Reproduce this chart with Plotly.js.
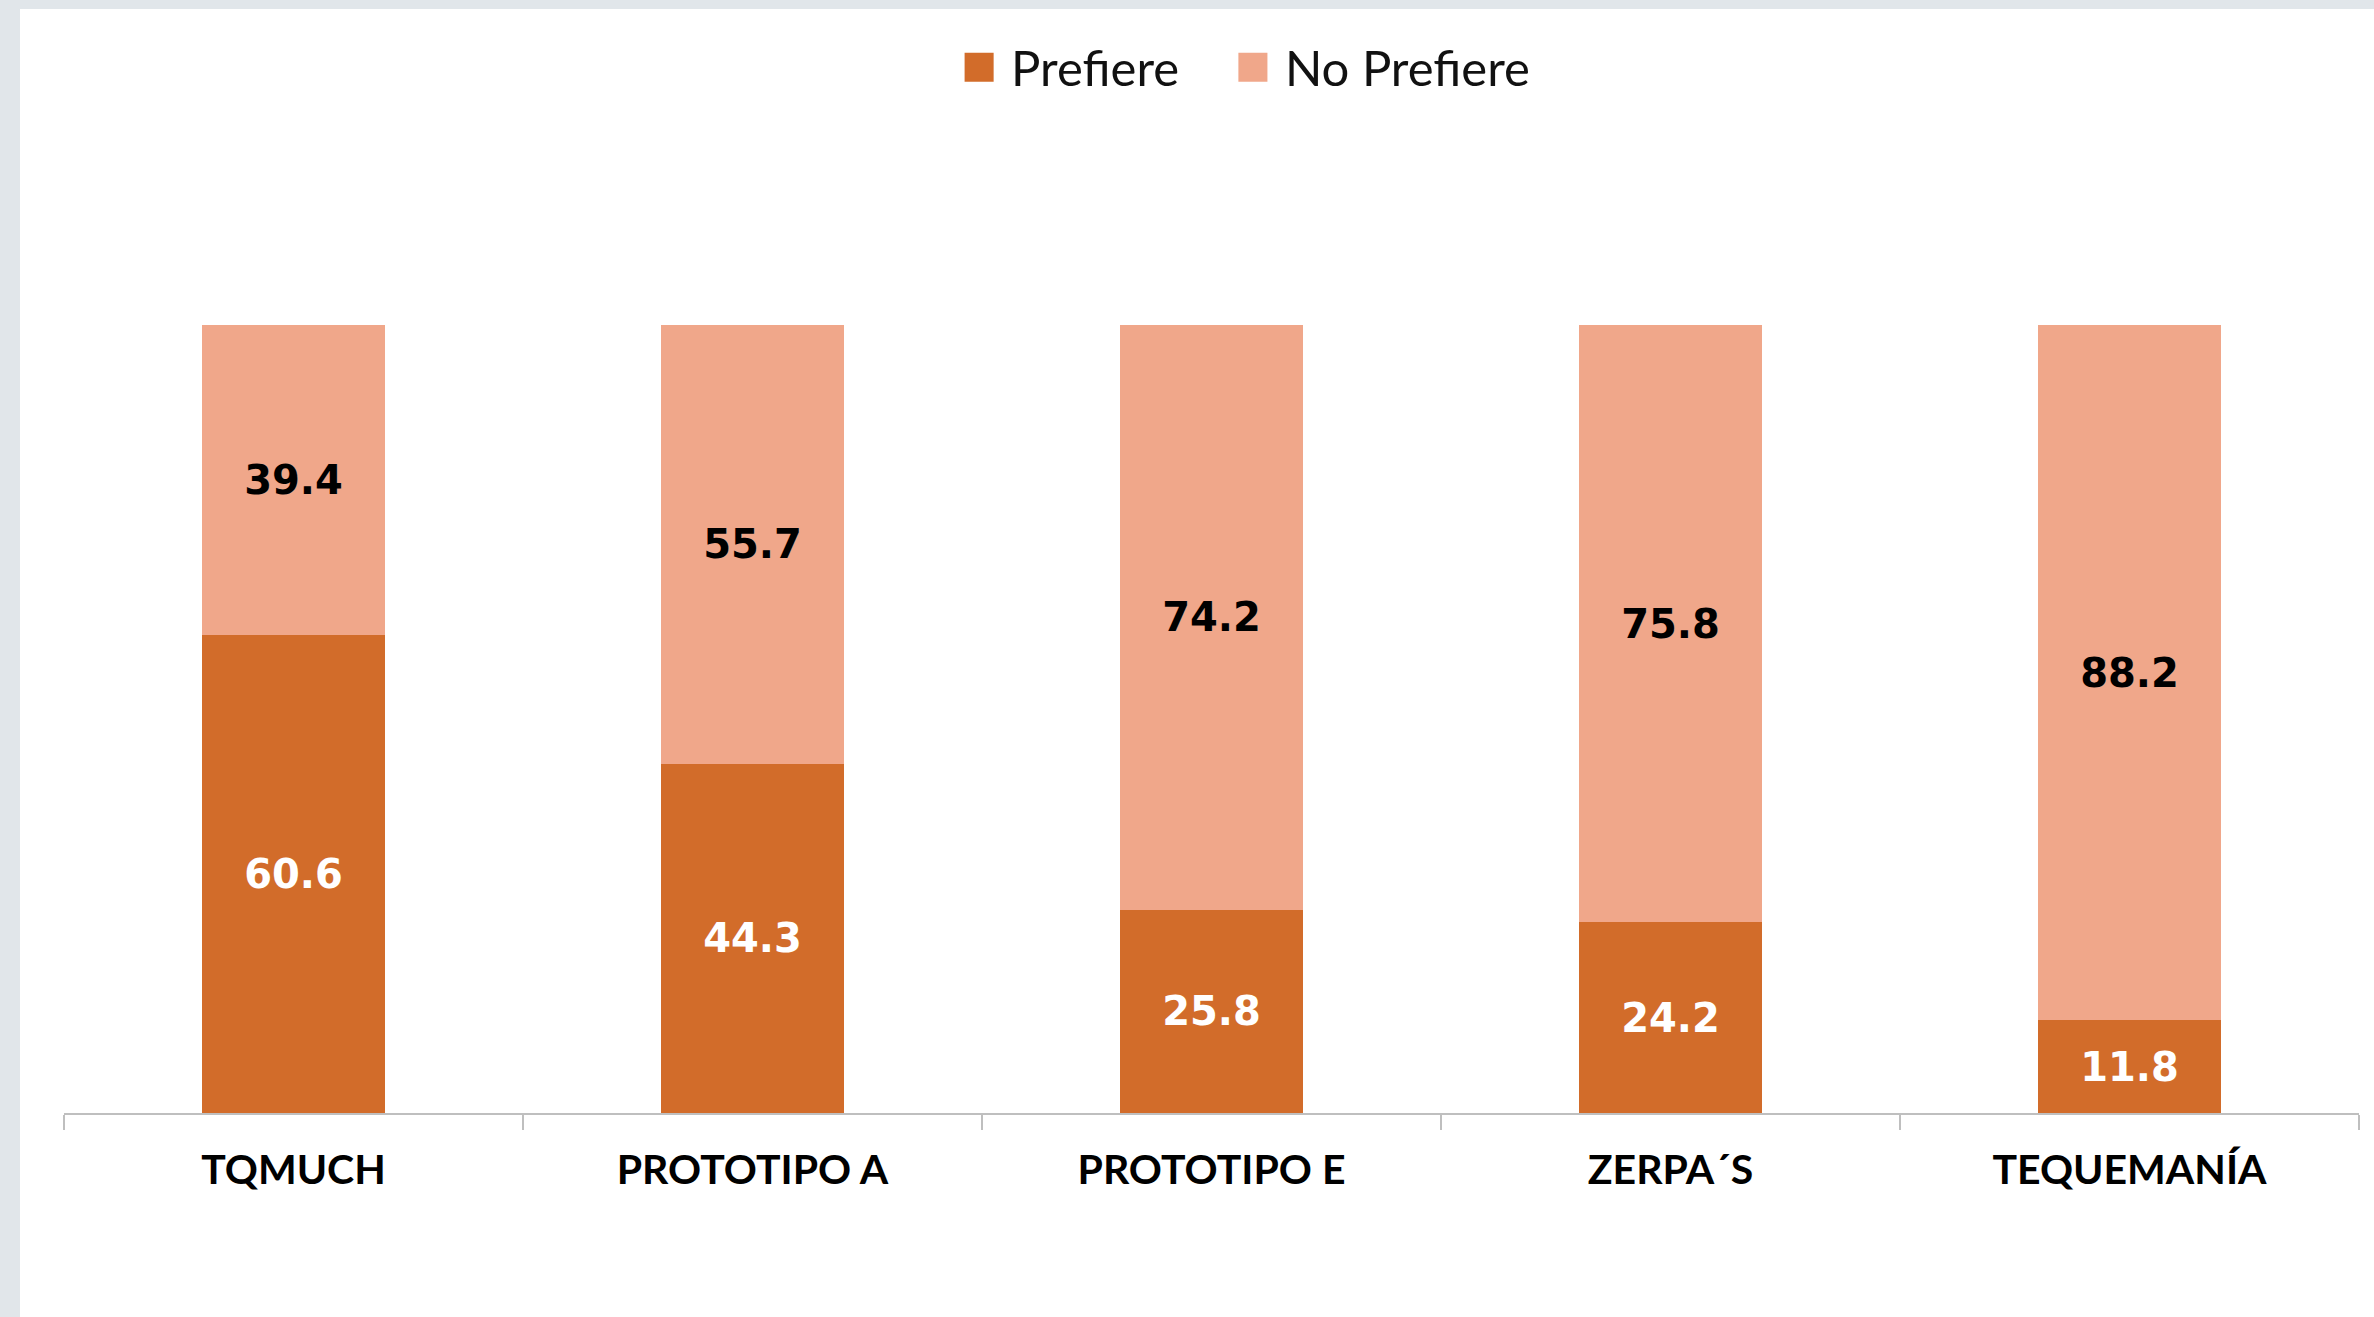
<!DOCTYPE html>
<html>
<head>
<meta charset="utf-8">
<script src="https://cdn.plot.ly/plotly-3.0.1.min.js"></script>
<style>
  html, body { margin: 0; padding: 0; background: #E1E6EA; width: 2374px; height: 1317px; overflow: hidden; }
  #chart { position: absolute; left: 20px; top: 9px; width: 2354px; height: 1308px; background: #FFFFFF; }
</style>
</head>
<body>
<div id="chart"></div>
<script>
const categories = ["TQMUCH", "PROTOTIPO A", "PROTOTIPO E", "ZERPA\u00B4S", "TEQUEMAN\u00CDA"];
const prefiere = [60.6, 44.3, 25.8, 24.2, 11.8];
const noPrefiere = [39.4, 55.7, 74.2, 75.8, 88.2];
const seriesNames = ["Prefiere", "No Prefiere"];

const colorDark = "#D26C2A";
const colorLight = "#F0A78A";

const traces = [
  {
    type: "bar", name: seriesNames[0], x: categories, y: prefiere,
    marker: { color: colorDark }, legend: "legend",
    texttemplate: "%{y:.1f}", textposition: "inside", insidetextanchor: "middle",
    textfont: { family: "DejaVu Sans", size: 40, color: "#FFFFFF", weight: "bold" },
    constraintext: "none", hoverinfo: "skip"
  },
  {
    type: "bar", name: seriesNames[1], x: categories, y: noPrefiere,
    marker: { color: colorLight }, legend: "legend2",
    texttemplate: "%{y:.1f}", textposition: "inside", insidetextanchor: "middle",
    textfont: { family: "DejaVu Sans", size: 40, color: "#000000", weight: "bold" },
    constraintext: "none", hoverinfo: "skip"
  }
];

const legendFont = { family: "Lato", size: 49, color: "#111111" };

const layout = {
  width: 2354, height: 1308,
  paper_bgcolor: "#FFFFFF", plot_bgcolor: "#FFFFFF",
  margin: { l: 44, r: 15, t: 316, b: 204 },
  barmode: "stack",
  bargap: 0.6,
  showlegend: true,
  legend: {
    orientation: "h", x: 0.3909, xanchor: "left", y: 1.327, yanchor: "middle",
    font: legendFont, itemwidth: 40
  },
  legend2: {
    orientation: "h", x: 0.5102, xanchor: "left", y: 1.327, yanchor: "middle",
    font: legendFont, itemwidth: 40
  },
  xaxis: {
    type: "category",
    showline: true, linecolor: "#BFBFBF", linewidth: 2,
    ticks: "outside", tickson: "boundaries", ticklen: 15, tickcolor: "#BFBFBF", tickwidth: 2,
    tickfont: { family: "Lato", size: 41, color: "#000000", weight: "bold" },
    ticklabelstandoff: 20,
    showgrid: false, zeroline: false
  },
  yaxis: {
    range: [0, 100], visible: false, showgrid: false, zeroline: false
  }
};

Plotly.newPlot("chart", traces, layout, { displayModeBar: false, staticPlot: true }).then(function (gd) {
  const pts = gd.querySelectorAll(".legendpoints path");
  pts.forEach(function (p) { p.setAttribute("transform", "translate(18,0) scale(2.42)"); });
});
</script>
</body>
</html>
